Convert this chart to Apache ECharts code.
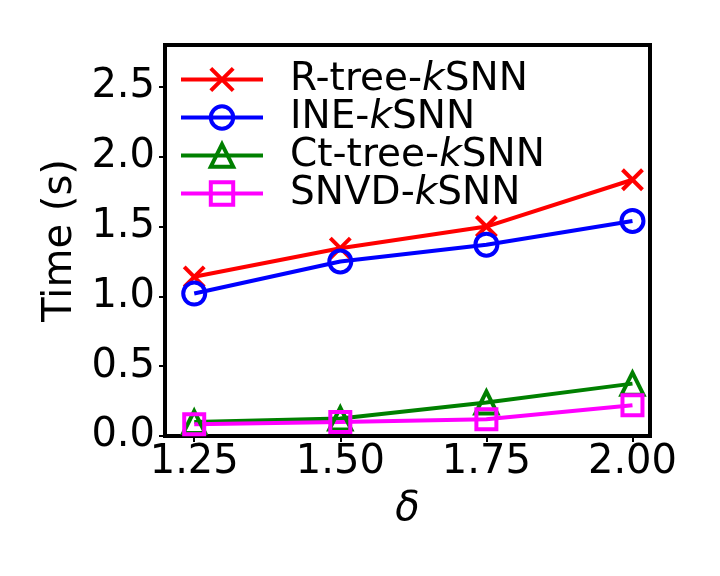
<!DOCTYPE html>
<html lang="en">
	<head>
		<meta charset="utf-8">
		<title>Time vs delta</title>
		<style>
			html, body { margin: 0; padding: 0; background: #fff; }
			#chart { width: 720px; height: 576px; }
		</style>
	</head>
	<body>
		<div id="chart"></div>
		<script src="https://cdn.jsdelivr.net/npm/echarts@6.0.0/dist/echarts.min.js"></script>
		<script type="text/javascript">
			// x values (delta)
			var deltas = [1.25, 1.50, 1.75, 2.00];
			var xTicks = [1.25, 1.50, 1.75, 2.00];
			var yTicks = [0, 0.5, 1.0, 1.5, 2.0, 2.5];

			// time (s) per method
			var rtree = [1.14, 1.345, 1.50, 1.835];
			var ine = [1.02, 1.25, 1.37, 1.54];
			var cttree = [0.10, 0.125, 0.24, 0.375];
			var snvd = [0.085, 0.10, 0.12, 0.22];

			var names = ['R-tree-{i|k}SNN', 'INE-{i|k}SNN', 'Ct-tree-{i|k}SNN', 'SNVD-{i|k}SNN'];
			var FONT = 'DejaVu Sans';

			function pairs(vals) {
				return deltas.map(function (d, i) { return [d, vals[i]]; });
			}

			function makeSeries(name, vals, color, symbol, size) {
				return {
					name: name,
					type: 'line',
					data: pairs(vals),
					symbol: symbol,
					symbolSize: size,
					showAllSymbol: true,
					lineStyle: { color: color, width: 4 },
					itemStyle: { color: 'transparent', borderColor: color, borderWidth: 4 },
					emphasis: { disabled: true },
					animation: false
				};
			}

			var myChart = echarts.init(document.getElementById('chart'));
			var option = {
				backgroundColor: '#fff',
				textStyle: { fontFamily: FONT },
				grid: {
					left: 165, right: 70, top: 45, bottom: 140,
					show: true, borderColor: '#000', borderWidth: 4,
					containLabel: false, outerBoundsMode: 'none'
				},
				legend: {
					left: 179, top: 60,
					padding: 0,
					orient: 'vertical',
					itemWidth: 82, itemHeight: 28, itemGap: -1,
					lineStyle: { width: 4 },
					itemStyle: { borderWidth: 4 },
					textStyle: {
						fontFamily: FONT, fontSize: 39, lineHeight: 38, color: '#000', padding: [0, 0, 0, 22],
						rich: { i: { fontFamily: FONT, fontSize: 39, lineHeight: 38, fontStyle: 'italic', color: '#000' } }
					},
					data: names
				},
				xAxis: {
					type: 'value',
					min: 1.2, max: 2.03,
					name: 'δ',
					nameLocation: 'middle',
					nameGap: 54,
					nameTextStyle: { fontFamily: FONT, fontSize: 40, fontStyle: 'italic', color: '#000' },
					axisLine: { show: false },
					splitLine: { show: false },
					axisTick: { show: true, length: 6, lineStyle: { color: '#000', width: 2 }, customValues: xTicks },
					axisLabel: {
						fontFamily: FONT, fontSize: 40, color: '#000', margin: 7,
						customValues: xTicks,
						formatter: function (v) { return v.toFixed(2); }
					}
				},
				yAxis: {
					type: 'value',
					min: 0, max: 2.8,
					name: 'Time (s)',
					nameLocation: 'middle',
					nameGap: 62,
					nameTextStyle: { fontFamily: FONT, fontSize: 40, color: '#000' },
					axisLine: { show: false },
					splitLine: { show: false },
					axisTick: { show: true, length: 6, lineStyle: { color: '#000', width: 2 }, customValues: yTicks },
					axisLabel: {
						fontFamily: FONT, fontSize: 40, color: '#000', margin: 10,
						customValues: yTicks,
						formatter: function (v) { return v.toFixed(1); }
					}
				},
				series: [
					makeSeries(names[0], rtree, '#ff0000', 'path://M0,0L10,10M10,0L0,10', 20),
					makeSeries(names[1], ine, '#0000ff', 'circle', 22),
					makeSeries(names[2], cttree, '#008000', 'triangle', 22),
					makeSeries(names[3], snvd, '#ff00ff', 'rect', 20)
				]
			};
			myChart.setOption(option);
		</script>
	</body>
</html>
